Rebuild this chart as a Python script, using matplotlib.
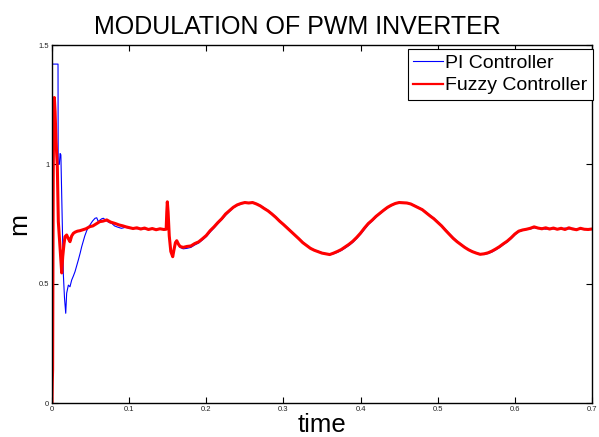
import matplotlib
matplotlib.use("Agg")
import matplotlib.pyplot as plt
from matplotlib.ticker import FormatStrFormatter

plt.rcParams["font.family"] = ["Liberation Sans", "DejaVu Sans"]

# start-up transient, PI controller
t_pi_start = [0.0, 0.0003, 0.0078, 0.0080, 0.0095, 0.0105, 0.0115, 0.0130,
              0.0147, 0.0162, 0.0178, 0.0190, 0.0212, 0.0233, 0.0255, 0.0277,
              0.0298, 0.0320, 0.0342, 0.0365, 0.0385, 0.0405, 0.0425, 0.0450,
              0.0475, 0.0500, 0.0525, 0.0558, 0.0580, 0.0600, 0.0620, 0.0645,
              0.0666, 0.0690, 0.0720, 0.0750, 0.0774, 0.0810, 0.0850, 0.0900,
              0.0950]
m_pi_start = [0.0, 1.42, 1.42, 1.00, 1.00, 1.045, 1.04, 0.80,
              0.54, 0.44, 0.376, 0.46, 0.494, 0.487, 0.515, 0.532,
              0.55, 0.575, 0.60, 0.628, 0.655, 0.678, 0.70, 0.722,
              0.738, 0.750, 0.762, 0.774, 0.776, 0.760, 0.766, 0.772,
              0.774, 0.768, 0.760, 0.755, 0.753, 0.742, 0.737, 0.732,
              0.736]

# start-up transient, fuzzy controller
t_fz_start = [0.0, 0.0004, 0.0008, 0.0012, 0.0016, 0.0020, 0.0025, 0.0030,
              0.0040, 0.0052, 0.0069, 0.0082, 0.0104, 0.0126, 0.0139, 0.0155,
              0.0169, 0.0190, 0.0210, 0.0233, 0.0255, 0.0277, 0.0300, 0.0330,
              0.0363, 0.0400, 0.0440, 0.0490, 0.0530, 0.0570, 0.0620, 0.0660,
              0.0710, 0.0760, 0.0820, 0.0870, 0.0920, 0.0960]
m_fz_start = [0.0, 0.09, 0.14, 0.55, 0.95, 1.16, 1.26, 1.28,
              1.22, 1.10, 0.99, 0.76, 0.655, 0.545, 0.613, 0.665,
              0.697, 0.704, 0.69, 0.676, 0.70, 0.711, 0.716, 0.72,
              0.722, 0.726, 0.73, 0.739, 0.742, 0.75, 0.76, 0.762,
              0.767, 0.758, 0.752, 0.746, 0.742, 0.738]

# steady state, load step at 0.15 s and reference swings
t_main = [0.100, 0.105, 0.110, 0.115, 0.120, 0.125, 0.130, 0.135, 0.140, 0.145,
          0.148, 0.1488, 0.1495, 0.1505, 0.152, 0.154, 0.1565, 0.158, 0.160, 0.1617,
          0.164, 0.166,
          0.170, 0.175, 0.180, 0.185, 0.190, 0.195, 0.200, 0.205, 0.210, 0.215,
          0.220, 0.225, 0.230, 0.235, 0.240, 0.245, 0.250, 0.255, 0.260, 0.265,
          0.270, 0.275, 0.280, 0.285, 0.290, 0.295, 0.300, 0.305, 0.310, 0.315,
          0.320, 0.325, 0.330, 0.335, 0.340, 0.345, 0.350, 0.355, 0.360, 0.365,
          0.370, 0.375, 0.380, 0.385, 0.390, 0.395, 0.400, 0.405, 0.410, 0.415,
          0.420, 0.425, 0.430, 0.435, 0.440, 0.445, 0.450, 0.455, 0.460, 0.465,
          0.470, 0.475, 0.480, 0.485, 0.490, 0.495, 0.500, 0.505, 0.510, 0.515,
          0.520, 0.525, 0.530, 0.535, 0.540, 0.545, 0.550, 0.555, 0.560, 0.565,
          0.570, 0.575, 0.580, 0.585, 0.590, 0.595, 0.600, 0.605, 0.610, 0.615,
          0.620, 0.625, 0.630, 0.635, 0.640, 0.645, 0.650, 0.655, 0.660, 0.665,
          0.670, 0.675, 0.680, 0.685, 0.690, 0.695, 0.700]

m_fz_main = [0.735, 0.731, 0.734, 0.729, 0.733, 0.727, 0.731, 0.726, 0.730, 0.727,
             0.728, 0.80, 0.843, 0.80, 0.70, 0.635, 0.613, 0.64, 0.672, 0.68,
             0.665, 0.656,
             0.652, 0.656, 0.658, 0.668, 0.675, 0.688, 0.702, 0.722, 0.738, 0.756,
             0.772, 0.792, 0.806, 0.820, 0.830, 0.836, 0.840, 0.838, 0.840, 0.834,
             0.826, 0.815, 0.805, 0.792, 0.778, 0.762, 0.748, 0.733, 0.718, 0.703,
             0.688, 0.672, 0.660, 0.648, 0.640, 0.634, 0.628, 0.625, 0.622, 0.628,
             0.635, 0.643, 0.654, 0.665, 0.678, 0.694, 0.712, 0.733, 0.752, 0.766,
             0.782, 0.795, 0.808, 0.820, 0.829, 0.836, 0.840, 0.839, 0.838, 0.834,
             0.826, 0.818, 0.810, 0.797, 0.784, 0.772, 0.757, 0.742, 0.724, 0.707,
             0.690, 0.676, 0.664, 0.652, 0.642, 0.634, 0.628, 0.623, 0.625, 0.629,
             0.636, 0.645, 0.655, 0.667, 0.678, 0.692, 0.708, 0.720, 0.725, 0.728,
             0.732, 0.738, 0.733, 0.730, 0.734, 0.729, 0.733, 0.728, 0.732, 0.727,
             0.734, 0.729, 0.726, 0.732, 0.728, 0.727, 0.729]

m_pi_main = [0.733, 0.734, 0.730, 0.732, 0.729, 0.731, 0.728, 0.730, 0.727, 0.729,
             0.727, 0.80, 0.842, 0.80, 0.70, 0.636, 0.615, 0.64, 0.668, 0.676,
             0.662, 0.652,
             0.646, 0.648, 0.652, 0.662, 0.670, 0.683, 0.697, 0.716, 0.733, 0.751,
             0.768, 0.786, 0.802, 0.818, 0.827, 0.834, 0.838, 0.840, 0.837, 0.836,
             0.828, 0.818, 0.807, 0.795, 0.780, 0.765, 0.750, 0.736, 0.720, 0.705,
             0.690, 0.675, 0.662, 0.650, 0.641, 0.636, 0.630, 0.626, 0.624, 0.625,
             0.631, 0.639, 0.649, 0.660, 0.673, 0.689, 0.707, 0.727, 0.747, 0.762,
             0.778, 0.792, 0.805, 0.817, 0.827, 0.835, 0.839, 0.840, 0.837, 0.835,
             0.828, 0.820, 0.812, 0.800, 0.787, 0.775, 0.760, 0.745, 0.728, 0.710,
             0.694, 0.679, 0.666, 0.654, 0.644, 0.636, 0.629, 0.625, 0.622, 0.626,
             0.632, 0.641, 0.651, 0.663, 0.674, 0.688, 0.704, 0.717, 0.723, 0.727,
             0.729, 0.734, 0.731, 0.733, 0.728, 0.732, 0.729, 0.731, 0.727, 0.733,
             0.729, 0.732, 0.730, 0.727, 0.731, 0.729, 0.727]

x_ticks = [0, 0.1, 0.2, 0.3, 0.4, 0.5, 0.6, 0.7]
y_ticks = [0, 0.5, 1, 1.5]

t_pi = t_pi_start + t_main
m_pi = m_pi_start + m_pi_main
t_fz = t_fz_start + t_main
m_fz = m_fz_start + m_fz_main

fig = plt.figure(figsize=(5.99, 4.37), dpi=100)
ax = fig.add_axes([52 / 599, 34 / 437, 540 / 599, 358 / 437])

ax.plot(t_pi, m_pi, color="#0000ff", lw=0.8, label="PI Controller")
ax.plot(t_fz, m_fz, color="#ff0000", lw=2.2, label="Fuzzy Controller")

ax.set_xlim(0, 0.7)
ax.set_ylim(0, 1.5)
ax.set_xticks(x_ticks)
ax.set_yticks(y_ticks)
ax.xaxis.set_major_formatter(FormatStrFormatter("%g"))
ax.yaxis.set_major_formatter(FormatStrFormatter("%g"))
ax.tick_params(direction="in", top=True, right=True, length=4, width=0.8,
               labelsize=5.5, labelcolor="#222222", pad=2)
for sp in ax.spines.values():
    sp.set_linewidth(1.0)

# title sits centred on the figure, not on the axes
fig.text(297 / 599, 1 - 34 / 437, "MODULATION OF PWM INVERTER", fontsize=18,
         ha="center", va="baseline")
ax.set_xlabel("time", fontsize=18.5, labelpad=0)
ax.set_ylabel("m", fontsize=19, labelpad=5)

leg = ax.legend(loc="upper right", bbox_to_anchor=(1.002, 0.99), fontsize=14,
                fancybox=False, framealpha=1, edgecolor="black",
                handlelength=1.5, handletextpad=0.12, borderpad=0.3,
                labelspacing=0.25, borderaxespad=0)
leg.get_frame().set_linewidth(0.8)
leg.get_lines()[0].set_linewidth(0.8)
leg.get_lines()[1].set_linewidth(1.6)

fig.savefig("out.png", dpi=100)
